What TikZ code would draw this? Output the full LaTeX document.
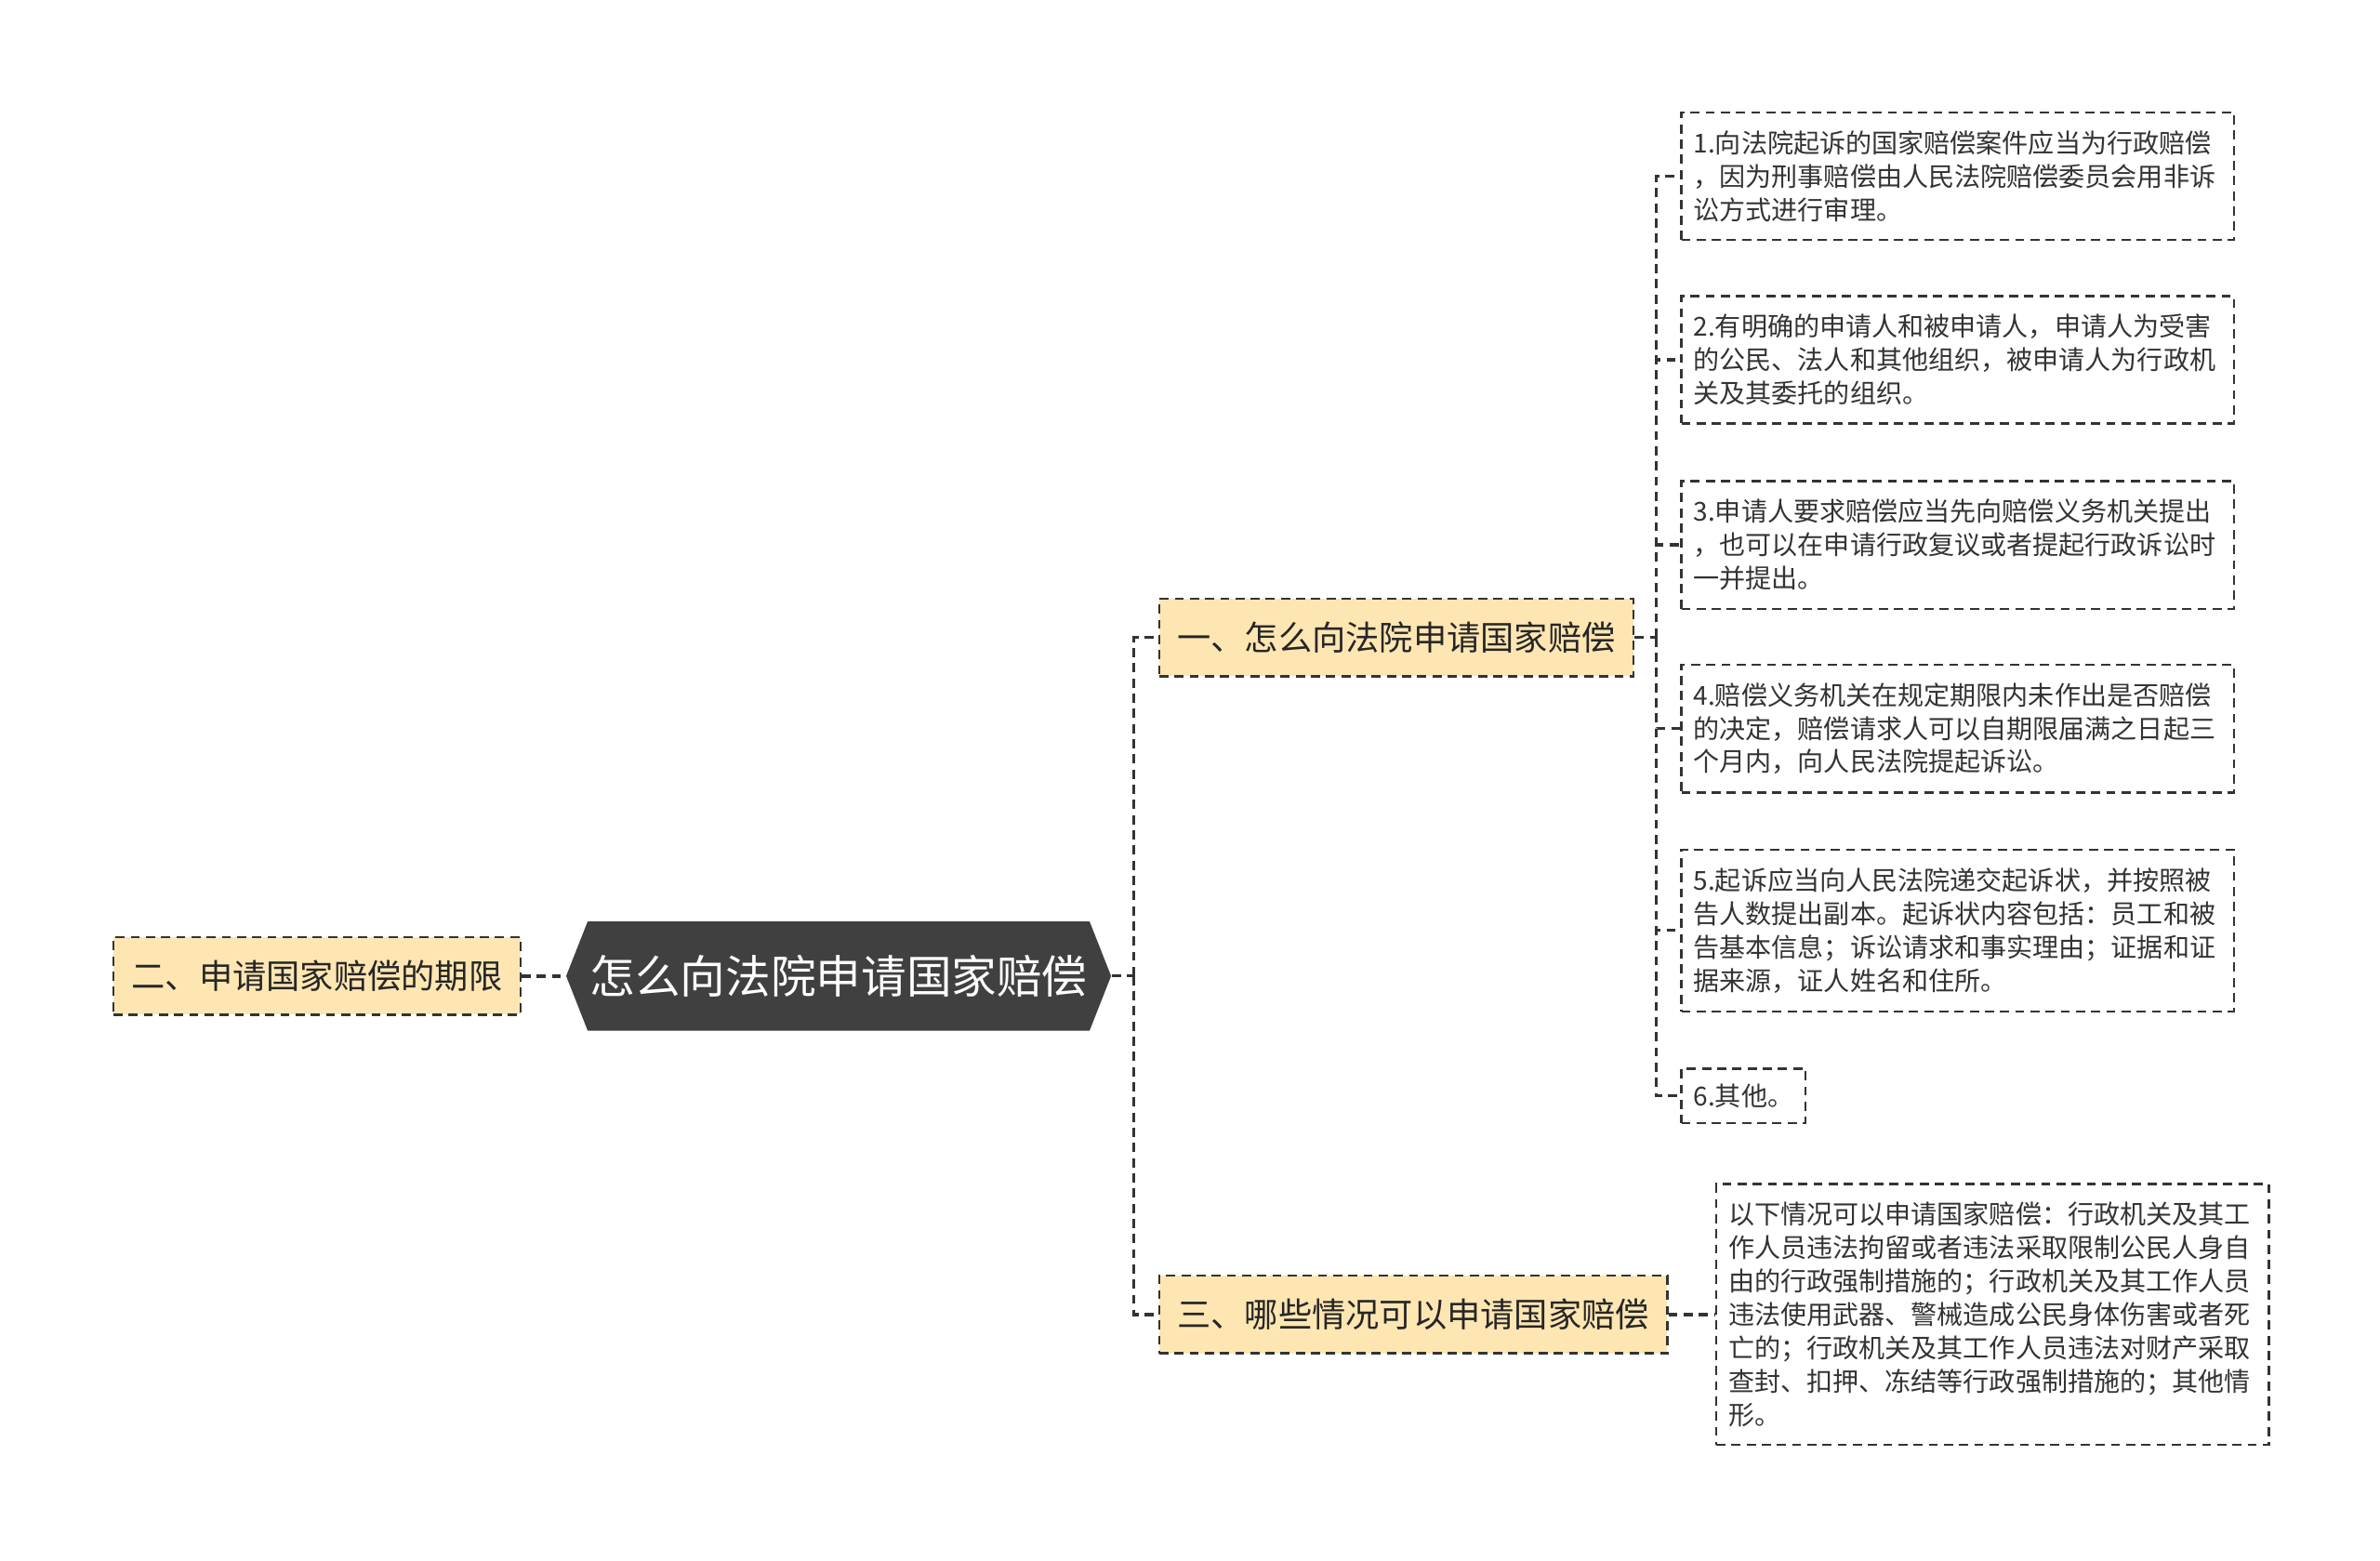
\documentclass[tikz,border=0pt]{standalone}
\usepackage{fontspec}
\setmainfont{Noto Sans CJK SC}
\usetikzlibrary{shapes.symbols}
\definecolor{rootgray}{HTML}{404040}
\definecolor{topicfill}{HTML}{FDE6B2}
\definecolor{linegray}{HTML}{333333}

\begin{document}
\begin{tikzpicture}[x=0.5pt, y=-0.5pt,
    root/.style={signal, signal to=west and east, signal pointer angle=137,
                 fill=rootgray, text=white, minimum width=179.5pt,
                 minimum height=36pt, inner sep=0pt,
                 font=\fontsize{14.9pt}{18pt}\selectfont},
    topic/.style={draw=linegray, dash pattern=on 3pt off 2pt, line width=0.7pt,
                  fill=topicfill, inner xsep=6pt, minimum height=25.5pt,
                  text=black!85, font=\fontsize{11.1pt}{13pt}\selectfont},
    box/.style={draw=linegray, dash pattern=on 3pt off 2pt, line width=0.7pt,
                fill=white, inner xsep=4pt, inner ysep=6pt, text=black!80,
                font=\fontsize{8.6pt}{11pt}\selectfont},
    leaf/.style={box, text width=174pt, align=left},
    conn/.style={draw=linegray, dash pattern=on 3pt off 2pt, line width=1pt},
  ]
    \useasboundingbox (0,0) rectangle (1568,1028);

    % Nodes -- centre and left
    \node[root] (root) at (552.5,643) {怎么向法院申请国家赔偿};
    \node[topic, anchor=west] (t2) at (74,643) {二、申请国家赔偿的期限};

    % Nodes -- right branches
    \node[topic, anchor=west] (t1) at (763,420) {一、怎么向法院申请国家赔偿};
    \node[topic, anchor=west] (t3) at (763,866) {三、哪些情况可以申请国家赔偿};

    % Leaves of t1
    \node[leaf, anchor=west] (q1) at (1107,116)
      {1.向法院起诉的国家赔偿案件应当为行政赔偿\\，因为刑事赔偿由人民法院赔偿委员会用非诉\\讼方式进行审理。};
    \node[leaf, anchor=west] (q2) at (1107,237)
      {2.有明确的申请人和被申请人，申请人为受害\\的公民、法人和其他组织，被申请人为行政机\\关及其委托的组织。};
    \node[leaf, anchor=west] (q3) at (1107,359)
      {3.申请人要求赔偿应当先向赔偿义务机关提出\\，也可以在申请行政复议或者提起行政诉讼时\\一并提出。};
    \node[leaf, anchor=west] (q4) at (1107,480)
      {4.赔偿义务机关在规定期限内未作出是否赔偿\\的决定，赔偿请求人可以自期限届满之日起三\\个月内，向人民法院提起诉讼。};
    \node[leaf, anchor=west] (q5) at (1107,613)
      {5.起诉应当向人民法院递交起诉状，并按照被\\告人数提出副本。起诉状内容包括：员工和被\\告基本信息；诉讼请求和事实理由；证据和证\\据来源，证人姓名和住所。};
    \node[box, anchor=west, inner ysep=5pt] (q6) at (1107,722) {6.其他。};

    % Leaf of t3
    \node[leaf, anchor=west] (q7) at (1130,866)
      {以下情况可以申请国家赔偿：行政机关及其工\\作人员违法拘留或者违法采取限制公民人身自\\由的行政强制措施的；行政机关及其工作人员\\违法使用武器、警械造成公民身体伤害或者死\\亡的；行政机关及其工作人员违法对财产采取\\查封、扣押、冻结等行政强制措施的；其他情\\形。};

    % Connections
    \coordinate (j1) at (747,643);
    \coordinate (j2) at (1091,420);
    \draw[conn, line width=1.3pt] (t2.east) -- (root.west);
    \draw[conn] (root.east) -- (j1);
    \draw[conn] (j1) |- (t1.west);
    \draw[conn] (j1) |- (t3.west);
    \draw[conn] (t1.east) -- (j2);
    \foreach \n in {1,...,6}
      \draw[conn] (j2) |- (q\n.west);
    \draw[conn] (t3.east) -- (q7.west);
  \end{tikzpicture}
\end{document}
